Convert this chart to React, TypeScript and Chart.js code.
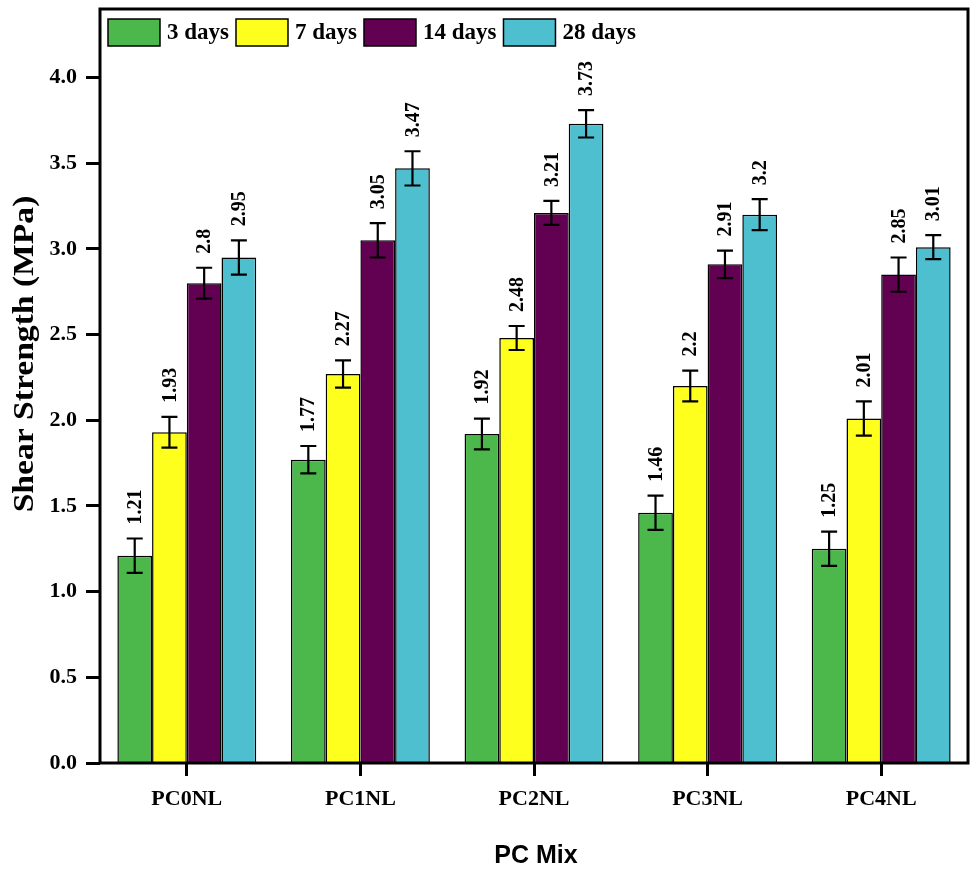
import React, { useEffect, useRef } from "react";
import { Chart, registerables } from "chart.js";

Chart.register(...registerables);

const categories = ["PC0NL", "PC1NL", "PC2NL", "PC3NL", "PC4NL"];
const seriesNames = ["3 days", "7 days", "14 days", "28 days"];
const values3 = [1.21, 1.77, 1.92, 1.46, 1.25];
const errors3 = [0.1, 0.08, 0.09, 0.1, 0.1];
const values7 = [1.93, 2.27, 2.48, 2.2, 2.01];
const errors7 = [0.09, 0.08, 0.07, 0.09, 0.1];
const values14 = [2.8, 3.05, 3.21, 2.91, 2.85];
const errors14 = [0.09, 0.1, 0.07, 0.08, 0.1];
const values28 = [2.95, 3.47, 3.73, 3.2, 3.01];
const errors28 = [0.1, 0.1, 0.08, 0.09, 0.07];
const colors = ["#4CB74A", "#FFFF1E", "#620052", "#4DBFCF"];

const SERIF = "'Liberation Serif', 'Times New Roman', serif";
const SANS = "'Liberation Sans', Arial, sans-serif";

const allValues = [values3, values7, values14, values28];
const allErrors = [errors3, errors7, errors14, errors28];

const decorPlugin = {
  id: "decor",
  afterDatasetsDraw(chart: any) {
    const ctx = chart.ctx;
    const yScale = chart.scales.y;
    ctx.save();
    chart.data.datasets.forEach((ds: any, di: number) => {
      const meta = chart.getDatasetMeta(di);
      const errs = allErrors[di];
      meta.data.forEach((el: any, i: number) => {
        const v = ds.data[i];
        const e = errs[i];
        const x = el.x;
        const yt = yScale.getPixelForValue(v + e);
        const yb = yScale.getPixelForValue(v - e);
        ctx.strokeStyle = "#000";
        ctx.lineWidth = 2.2;
        ctx.beginPath();
        ctx.moveTo(x, yt);
        ctx.lineTo(x, yb);
        ctx.moveTo(x - 8, yt);
        ctx.lineTo(x + 8, yt);
        ctx.moveTo(x - 8, yb);
        ctx.lineTo(x + 8, yb);
        ctx.stroke();
        ctx.save();
        ctx.translate(x, yt - 14);
        ctx.rotate(-Math.PI / 2);
        ctx.fillStyle = "#000";
        ctx.font = "bold 20px " + SERIF;
        ctx.textAlign = "left";
        ctx.textBaseline = "middle";
        ctx.fillText(String(v), 0, 1);
        ctx.restore();
      });
    });
    ctx.restore();
  },
  afterDraw(chart: any) {
    const ctx = chart.ctx;
    const a = chart.chartArea;
    ctx.save();
    // frame
    ctx.strokeStyle = "#000";
    ctx.lineWidth = 3;
    ctx.strokeRect(a.left, a.top, a.right - a.left, a.bottom - a.top);
    // legend
    let x = a.left + 8;
    const by = 19;
    const bw = 52;
    const bh = 27;
    ctx.font = "bold 23px " + SERIF;
    ctx.textBaseline = "middle";
    ctx.textAlign = "left";
    seriesNames.forEach((name, i) => {
      ctx.fillStyle = colors[i];
      ctx.fillRect(x, by, bw, bh);
      ctx.lineWidth = 1.5;
      ctx.strokeStyle = "#000";
      ctx.strokeRect(x, by, bw, bh);
      x += bw + 7;
      ctx.fillStyle = "#000";
      ctx.fillText(name, x, by + bh / 2 + 1);
      x += ctx.measureText(name).width + 7;
    });
    // axis titles
    ctx.save();
    ctx.translate(25, 354);
    ctx.rotate(-Math.PI / 2);
    ctx.scale(1.12, 1);
    ctx.font = "bold 30px " + SERIF;
    ctx.textAlign = "center";
    ctx.textBaseline = "middle";
    ctx.fillStyle = "#000";
    ctx.fillText("Shear Strength (MPa)", 0, 0);
    ctx.restore();
    ctx.font = "bold 25px " + SANS;
    ctx.textAlign = "center";
    ctx.textBaseline = "middle";
    ctx.fillStyle = "#000";
    ctx.fillText("PC Mix", (a.left + a.right) / 2 + 2, 856);
    ctx.restore();
  },
};

const zeroPad = (s: any) => {
  s.paddingTop = 0;
  s.paddingBottom = 0;
  s.paddingLeft = 0;
  s.paddingRight = 0;
};

export default function App() {
  const ref = useRef<HTMLCanvasElement | null>(null);
  useEffect(() => {
    if (!ref.current) return;
    const chart = new Chart(ref.current, {
      type: "bar",
      data: {
        labels: categories,
        datasets: seriesNames.map((name, i) => ({
          label: name,
          data: allValues[i],
          backgroundColor: colors[i],
          borderColor: "#000",
          borderWidth: 1.5,
          categoryPercentage: 0.8,
          barPercentage: 1.0,
        })),
      },
      options: {
        responsive: false,
        animation: false,
        devicePixelRatio: 1,
        layout: { padding: { left: 0, top: 9, right: 5, bottom: 0 } },
        plugins: {
          legend: { display: false },
          tooltip: { enabled: false },
        },
        scales: {
          x: {
            afterFit: (s: any) => {
              s.height = 107;
              zeroPad(s);
            },
            grid: {
              offset: false,
              drawOnChartArea: false,
              drawTicks: true,
              tickLength: 13,
              tickWidth: 3,
              tickColor: "#000",
            },
            border: { display: false },
            ticks: {
              color: "#000",
              font: { family: SERIF, size: 22, weight: "bold" },
              padding: 10,
            },
          },
          y: {
            min: 0,
            max: 4.4,
            afterFit: (s: any) => {
              s.width = 100;
              zeroPad(s);
            },
            afterBuildTicks: (s: any) => {
              s.ticks = s.ticks.filter(
                (t: any) => Math.abs(t.value * 2 - Math.round(t.value * 2)) < 1e-6
              );
            },
            grid: {
              drawOnChartArea: false,
              drawTicks: true,
              tickLength: 14,
              tickWidth: 3,
              tickColor: "#000",
            },
            border: { display: false },
            ticks: {
              stepSize: 0.5,
              color: "#000",
              font: { family: SERIF, size: 22, weight: "bold" },
              padding: 9,
              callback: (v: any) => Number(v).toFixed(1),
            },
          },
        },
      },
      plugins: [decorPlugin],
    });
    return () => chart.destroy();
  }, []);
  return (
    <div style={{ position: "fixed", left: 0, top: 0, width: 973, height: 870, background: "#fff" }}>
      <canvas ref={ref} width={973} height={870} style={{ width: 973, height: 870 }} />
    </div>
  );
}
